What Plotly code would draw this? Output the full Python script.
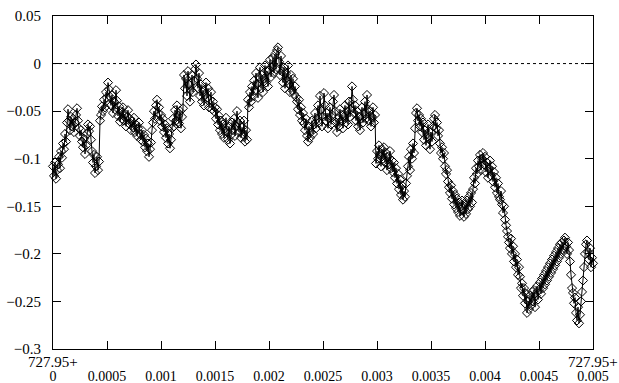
import plotly.graph_objects as go

# x offset: 727.95 + t, t in [0, 0.005], evenly sampled
t_start, t_end = 0.0, 0.005

# series values in thousandths
y_milli = [
    -108, -118, -104, -121, -112, -106, -98, -110, -92, -99,
    -84, -90, -74, -82, -62, -48, -60, -70, -56, -66,
    -58, -72, -62, -54, -47, -60, -68, -76, -70, -82,
    -88, -79, -95, -86, -74, -64, -71, -66, -80, -92,
    -104, -96, -115, -108, -98, -112, -103, -60, -54, -45,
    -50, -38, -46, -30, -36, -20, -27, -35, -44, -33,
    -52, -40, -48, -28, -39, -55, -45, -61, -50, -58,
    -46, -60, -53, -66, -56, -49, -63, -58, -70, -61,
    -67, -57, -72, -64, -76, -68, -62, -74, -80, -70,
    -82, -75, -88, -79, -92, -84, -98, -90, -83, -70,
    -62, -50, -58, -44, -38, -52, -46, -60, -54, -66,
    -58, -72, -64, -78, -68, -84, -74, -89, -80, -68,
    -58, -66, -49, -60, -44, -55, -63, -50, -68, -56,
    -47, -12, -26, -16, -34, -8, -22, -40, -28, -12,
    -30, -18, -6, -1, -16, -26, -10, -34, -22, -40,
    -28, -44, -33, -20, -36, -26, -46, -38, -30, -48,
    -40, -50, -46, -58, -48, -64, -55, -70, -60, -74,
    -64, -78, -68, -57, -72, -80, -66, -84, -75, -62,
    -70, -58, -76, -66, -50, -62, -72, -60, -78, -67,
    -74, -60, -82, -70, -80, -38, -46, -30, -40, -24,
    -34, -18, -28, -10, -22, -36, -14, -4, -26, -12,
    -30, -16, -2, -20, -8, -24, -6, 4, -14, -4,
    6, -10, 10, -6, 14, 17, 2, -12, 8, -8,
    -20, -4, -26, -10, -18, -2, -22, -30, -12, -28,
    -16, -32, -24, -35, -40, -48, -38, -54, -46, -60,
    -52, -63, -70, -58, -76, -82, -66, -78, -72, -60,
    -74, -64, -52, -68, -58, -44, -62, -34, -48, -66,
    -56, -31, -44, -60, -52, -68, -58, -46, -64, -54,
    -40, -33, -50, -62, -72, -58, -66, -48, -60, -54,
    -68, -56, -44, -62, -50, -64, -40, -56, -48, -24,
    -38, -52, -44, -60, -50, -66, -56, -70, -58, -46,
    -62, -52, -40, -58, -33, -48, -60, -50, -66, -56,
    -46, -62, -54, -105, -92, -100, -86, -96, -108, -90,
    -100, -88, -104, -94, -112, -98, -106, -92, -110, -102,
    -114, -104, -120, -110, -126, -116, -132, -122, -138, -128,
    -143, -134, -140, -126, -118, -108, -98, -112, -90, -100,
    -84, -94, -68, -52, -47, -60, -54, -66, -58, -72,
    -62, -80, -70, -86, -74, -64, -78, -90, -72, -82,
    -66, -58, -54, -68, -62, -76, -70, -84, -94, -88,
    -100, -94, -108, -116, -112, -124, -130, -136, -128, -142,
    -134, -148, -138, -152, -142, -156, -146, -160, -150, -144,
    -154, -161, -148, -158, -144, -153, -140, -150, -136, -146,
    -132, -120, -126, -110, -116, -102, -108, -96, -112, -100,
    -94, -106, -98, -114, -104, -120, -110, -102, -118, -108,
    -124, -114, -130, -120, -136, -126, -140, -143, -134, -148,
    -157, -150, -164, -170, -176, -182, -188, -194, -184, -200,
    -192, -208, -200, -214, -206, -222, -214, -224, -236, -231,
    -244, -236, -252, -242, -262, -250, -258, -244, -254, -240,
    -250, -238, -256, -244, -234, -248, -238, -230, -242, -226,
    -236, -222, -232, -218, -228, -214, -224, -210, -220, -206,
    -216, -202, -212, -198, -208, -194, -204, -190, -200, -188,
    -196, -186, -183, -192, -200, -188, -196, -208, -222, -236,
    -241, -252, -246, -262, -270, -256, -273, -264, -250, -240,
    -228, -214, -200, -190, -186, -198, -206, -194, -214, -204,
    -210,
]

x_tick_vals = [0, 0.0005, 0.001, 0.0015, 0.002, 0.0025, 0.003, 0.0035, 0.004, 0.0045, 0.005]
x_tick_text = ["0", "0.0005", "0.001", "0.0015", "0.002", "0.0025", "0.003", "0.0035", "0.004", "0.0045", "0.005"]
y_tick_vals = [0.05, 0, -0.05, -0.1, -0.15, -0.2, -0.25, -0.3]
y_tick_text = ["0.05", "0", "\u22120.05", "\u22120.1", "\u22120.15", "\u22120.2", "\u22120.25", "\u22120.3"]
x_offset_label = "727.95+"

y_values = [v / 1000.0 for v in y_milli]
n_points = len(y_values)
step = (t_end - t_start) / (n_points - 1)
x_values = [t_start + i * step for i in range(n_points)]

font_family = "Liberation Serif"
font_size = 14

fig = go.Figure()
fig.add_trace(go.Scatter(
    x=x_values, y=y_values, mode="lines+markers",
    line=dict(color="black", width=1),
    marker=dict(symbol="diamond-open", size=7, color="black", line=dict(width=1, color="black")),
    cliponaxis=False, showlegend=False,
))

fig.add_shape(type="line", xref="paper", yref="y", x0=0, x1=1, y0=0, y1=0,
              line=dict(color="black", width=1, dash="dot"))

for xv in (t_start, t_end):
    fig.add_annotation(x=xv, xref="x", y=-0.038, yref="paper", text=x_offset_label,
                       showarrow=False, xanchor="center", yanchor="middle",
                       font=dict(family=font_family, size=15, color="black"))

axis_common = dict(showline=True, linecolor="black", linewidth=1, mirror="ticks",
                   ticks="inside", ticklen=8, tickcolor="black", tickwidth=1,
                   showgrid=False, zeroline=False, automargin=False,
                   tickfont=dict(family=font_family, size=font_size, color="black"))

fig.update_xaxes(range=[t_start, t_end], tickmode="array", tickvals=x_tick_vals,
                 ticktext=x_tick_text, ticklabelstandoff=14, **axis_common)
fig.update_yaxes(range=[-0.3, 0.05], tickmode="array", tickvals=y_tick_vals,
                 ticktext=y_tick_text, ticklabelstandoff=8,
                 **{**axis_common, "tickfont": dict(family=font_family, size=15, color="black")})

fig.update_layout(width=619, height=383, margin=dict(l=53, r=26, t=16, b=34),
                  paper_bgcolor="white", plot_bgcolor="white",
                  font=dict(family=font_family, size=font_size, color="black"))

fig.write_html("out.html")
